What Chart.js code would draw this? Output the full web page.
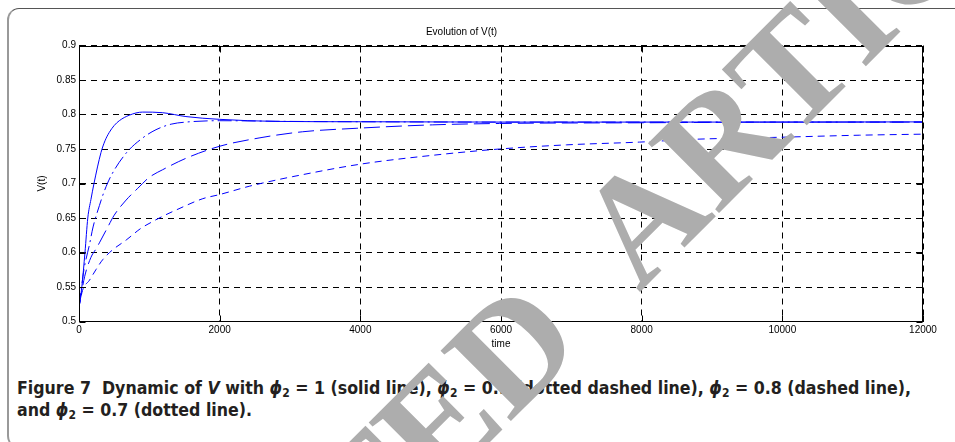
<!DOCTYPE html>
<html lang="en">
<head>
<meta charset="UTF-8">
<title>Evolution of V(t)</title>
<script src="https://cdn.jsdelivr.net/npm/chart.js"></script>
<style>
  html, body { margin: 0; padding: 0; background: #fff; overflow: hidden; }
  body { width: 955px; height: 442px; position: relative; }
  #frame { position: absolute; left: 7px; top: 8px; width: 990px; height: 440px; box-sizing: border-box;
           border: 1px solid #555; border-left: 2px solid #999; border-radius: 12px; }
  #chart { position: absolute; left: 0; top: 0; }
  #caption { position: absolute; left: 17px; top: 377px; color: #231f20; white-space: nowrap;
             font: bold 17.6px "DejaVu Sans Condensed", sans-serif; line-height: 22px; }
  #caption sub { font-size: 12px; vertical-align: -3px; line-height: 0; }
  #stamp { position: absolute; left: 0; top: 0; pointer-events: none; }
</style>
</head>
<body>
  <div id="frame"></div>
  <canvas id="chart" width="955" height="360"></canvas>
  <div id="caption">Figure 7&nbsp; Dynamic of <i>V</i> with <i>ϕ</i><sub>2</sub> = 1 (solid line), <i>ϕ</i><sub>2</sub> = 0.9 (dotted dashed line), <i>ϕ</i><sub>2</sub> = 0.8 (dashed line),<br>and <i>ϕ</i><sub>2</sub> = 0.7 (dotted line).</div>
  <canvas id="stamp" width="955" height="442"></canvas>

  <script>
    // valores
    const tSolid = [0, 40, 85, 125, 170, 213, 313, 370, 430, 500, 573, 715, 905, 1190, 1520, 2000, 2800, 4000, 6000, 8000, 10000, 12000];
    const vSolid = [0.521, 0.55, 0.60, 0.65, 0.677, 0.70, 0.745, 0.762, 0.774, 0.784, 0.791, 0.799, 0.8035, 0.8026, 0.797, 0.793, 0.790, 0.7895, 0.789, 0.789, 0.789, 0.7893];

    const tDashDot = [0, 70, 150, 200, 290, 360, 455, 670, 905, 1095, 1310, 1520, 2000, 3000, 4000, 6000, 8000, 10000, 12000];
    const vDashDot = [0.521, 0.575, 0.612, 0.637, 0.668, 0.689, 0.711, 0.744, 0.766, 0.778, 0.786, 0.789, 0.791, 0.790, 0.7895, 0.789, 0.789, 0.789, 0.789];

    const tDashed = [0, 80, 170, 240, 290, 410, 500, 670, 835, 1000, 1190, 1520, 2000, 2560, 3180, 3940, 5030, 5980, 8000, 10000, 12000];
    const vDashed = [0.521, 0.565, 0.593, 0.605, 0.614, 0.637, 0.654, 0.676, 0.693, 0.709, 0.720, 0.7365, 0.754, 0.766, 0.775, 0.780, 0.785, 0.787, 0.788, 0.789, 0.789];

    const tDotted = [0, 50, 150, 240, 340, 480, 670, 880, 1050, 1200, 1390, 1760, 2000, 2420, 2670, 3040, 4000, 5040, 5980, 6930, 7970, 8730, 9960, 11100, 12000];
    const vDotted = [0.521, 0.545, 0.560, 0.575, 0.590, 0.604, 0.618, 0.635, 0.645, 0.653, 0.662, 0.678, 0.684, 0.696, 0.702, 0.710, 0.728, 0.741, 0.750, 0.756, 0.760, 0.764, 0.767, 0.770, 0.7715];

    const xTicks = [0, 2000, 4000, 6000, 8000, 10000, 12000];
    const yTicks = [0.5, 0.55, 0.6, 0.65, 0.7, 0.75, 0.8, 0.85, 0.9];

    const stampWords = ['RETRACTED', 'ARTICLE'];

    const pares = (ts, vs) => ts.map((t, i) => ({ x: t, y: vs[i] }));

    function serie(label, ts, vs, dash) {
      return {
        label,
        data: pares(ts, vs),
        borderColor: 'rgb(0,0,255)',
        borderWidth: 1,
        borderDash: dash,
        pointRadius: 0,
        fill: false,
        cubicInterpolationMode: 'monotone'
      };
    }

    // caja del eje con marcas hacia dentro (estilo matlab)
    const cajaEjes = {
      id: 'cajaEjes',
      afterDatasetsDraw(chart) {
        const { ctx, chartArea: a, scales: { x, y } } = chart;
        const L = Math.round(a.left) + 0.5, R = Math.round(a.right) - 0.5;
        const T = Math.round(a.top) + 0.5, B = Math.round(a.bottom) - 0.5;
        ctx.save();
        ctx.strokeStyle = '#000';
        ctx.lineWidth = 1;
        ctx.setLineDash([]);
        ctx.beginPath();
        x.ticks.forEach(t => {
          const p = Math.round(x.getPixelForValue(t.value)) + 0.5;
          ctx.moveTo(p, B); ctx.lineTo(p, B - 6);
          ctx.moveTo(p, T); ctx.lineTo(p, T + 6);
        });
        y.ticks.forEach(t => {
          const p = Math.round(y.getPixelForValue(t.value)) + 0.5;
          ctx.moveTo(L, p); ctx.lineTo(L + 6, p);
          ctx.moveTo(R, p); ctx.lineTo(R - 6, p);
        });
        ctx.stroke();
        ctx.strokeRect(L, T, R - L, B - T);
        ctx.restore();
      }
    };

    const fuente = { family: '"Liberation Sans", Arial, sans-serif', size: 10 };

    new Chart(document.getElementById('chart').getContext('2d'), {
      type: 'line',
      data: {
        datasets: [
          serie('phi2 = 1', tSolid, vSolid, []),
          serie('phi2 = 0.9', tDashDot, vDashDot, [14, 4, 2, 4]),
          serie('phi2 = 0.8', tDashed, vDashed, [16, 6]),
          serie('phi2 = 0.7', tDotted, vDotted, [7, 5])
        ]
      },
      options: {
        responsive: false,
        animation: false,
        layout: { padding: { top: 0, right: 32, left: 0, bottom: 0 } },
        plugins: {
          legend: { display: false },
          tooltip: { enabled: false },
          title: {
            display: true, text: 'Evolution of V(t)', color: '#000',
            font: { ...fuente, weight: 'normal' }, padding: { top: 26.5, bottom: 7 }
          }
        },
        scales: {
          x: {
            type: 'linear', min: 0, max: 12000,
            afterBuildTicks: s => { s.ticks = xTicks.map(v => ({ value: v })); },
            afterFit: s => { s.height = 38.5; },
            ticks: { color: '#000', font: fuente, padding: 3, maxRotation: 0, callback: v => String(v) },
            grid: { color: '#000', lineWidth: 1, drawTicks: false },
            border: { display: true, color: '#000', dash: [6, 5] },
            title: { display: true, text: 'time', color: '#000', font: fuente, padding: { top: 0, bottom: 10 } }
          },
          y: {
            min: 0.5, max: 0.9,
            afterBuildTicks: s => { s.ticks = yTicks.map(v => ({ value: v })); },
            afterFit: s => { s.width = 79; },
            ticks: { color: '#000', font: fuente, padding: 3, callback: v => String(Number(v.toFixed(2))) },
            grid: { color: '#000', lineWidth: 1, drawTicks: false },
            border: { display: true, color: '#000', dash: [6, 5] },
            title: { display: true, text: 'V(t)', color: '#000', font: fuente, padding: { top: 36, bottom: 0 } }
          }
        }
      },
      plugins: [cajaEjes]
    });

    // marca de agua encima de todo
    const sctx = document.getElementById('stamp').getContext('2d');
    sctx.font = 'bold 152px "Liberation Serif", "Times New Roman", serif';
    sctx.fillStyle = '#adadad';
    sctx.translate(639, 293);
    sctx.rotate(-Math.PI / 4);
    sctx.textAlign = 'right';
    sctx.fillText(stampWords[0], -74, 0);
    sctx.textAlign = 'left';
    sctx.fillText(stampWords[1], 0, 0);
  </script>
</body>
</html>
